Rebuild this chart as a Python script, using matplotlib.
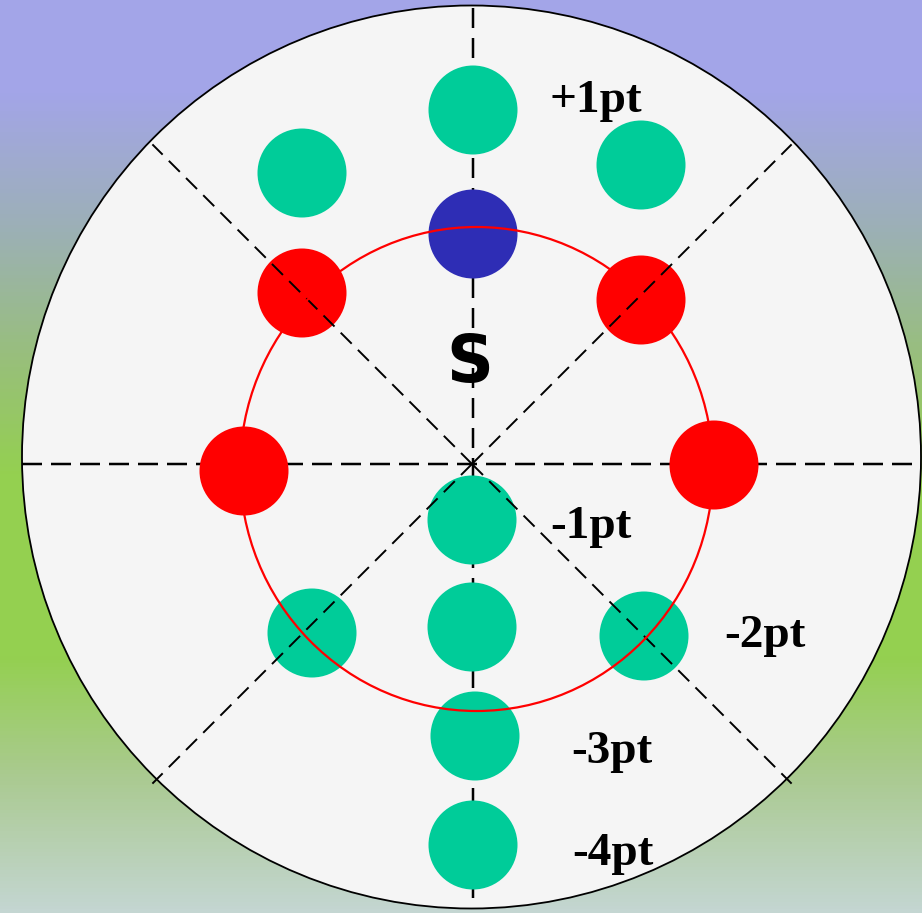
import numpy as np
import matplotlib.pyplot as plt
from matplotlib.patches import Ellipse, Circle
from matplotlib.colors import LinearSegmentedColormap

W, H = 922, 913

# dots: x, y (pixel units), colour group
green_x = [473, 302, 641, 472, 472, 312, 644, 475, 473]
green_y = [110, 173, 165, 520, 627, 633, 636, 736, 845]
red_x = [302, 641, 244, 714]
red_y = [293, 300, 471, 465]
blue_x = [473]
blue_y = [234]

labels = ["+1pt", "-1pt", "-2pt", "-3pt", "-4pt"]
label_x = [596, 591, 765, 612, 613]
label_y = [112, 538, 647, 763, 865]

dot_r = 44.5
GREEN = "#00CC99"
RED = "#FF0000"
BLUE = "#2E2DB5"

fig = plt.figure(figsize=(W / 100, H / 100), dpi=100)
ax = fig.add_axes([0, 0, 1, 1])
ax.set_xlim(0, W)
ax.set_ylim(H, 0)
ax.axis("off")

# background gradient
bg = LinearSegmentedColormap.from_list(
    "bg",
    [
        (0.0, "#A3A5E8"),
        (0.10, "#A3A5E8"),
        (0.25, "#9CB0B6"),
        (0.40, "#98C078"),
        (0.52, "#94D050"),
        (0.72, "#94D050"),
        (0.85, "#AACA90"),
        (1.0, "#C4D6D2"),
    ],
)
grad = np.linspace(0, 1, 256).reshape(-1, 1)
ax.imshow(grad, cmap=bg, aspect="auto", extent=[0, W, H, 0], zorder=0)

# big circle
cx, cy = 472, 464
ax.add_patch(Ellipse((471.5, 457), 899, 903, facecolor="#F5F5F5",
                     edgecolor="black", lw=1.3, zorder=1))

# dashed spokes
lw_px = 2.5
ax.plot([473, 473], [8, 909], color="black", lw=lw_px * 0.72,
        linestyle=(0, (20 / lw_px, 10 / lw_px)), zorder=2)
ax.plot([22, 921], [cy, cy], color="black", lw=lw_px * 0.72,
        linestyle=(0, (20 / lw_px, 9 / lw_px)), zorder=2)
spoke_len = 452
for ang in [45, 135, 225, 315]:
    a = np.deg2rad(ang)
    ax.plot([cx, cx + spoke_len * np.cos(a)], [cy, cy - spoke_len * np.sin(a)],
            color="black", lw=1.4, linestyle=(0, (8, 4.5)), zorder=4)

# dots
for xs, ys, c in [(green_x, green_y, GREEN), (red_x, red_y, RED), (blue_x, blue_y, BLUE)]:
    for x, y in zip(xs, ys):
        ax.add_patch(Circle((x, y), dot_r, facecolor=c, edgecolor="none", zorder=3))

# red ring
ax.add_patch(Ellipse((476.5, 469), 473, 484, facecolor="none",
                     edgecolor=RED, lw=1.6, zorder=5))

# text
for t, x, y in zip(labels, label_x, label_y):
    ax.text(x, y, t, ha="center", va="baseline", fontsize=34,
            fontweight="bold", family="Liberation Serif", zorder=6)
ax.text(470, 382, "S", ha="center", va="baseline", fontsize=47,
        fontweight="bold", family="DejaVu Sans", zorder=6)

fig.savefig("out.png", dpi=100)
